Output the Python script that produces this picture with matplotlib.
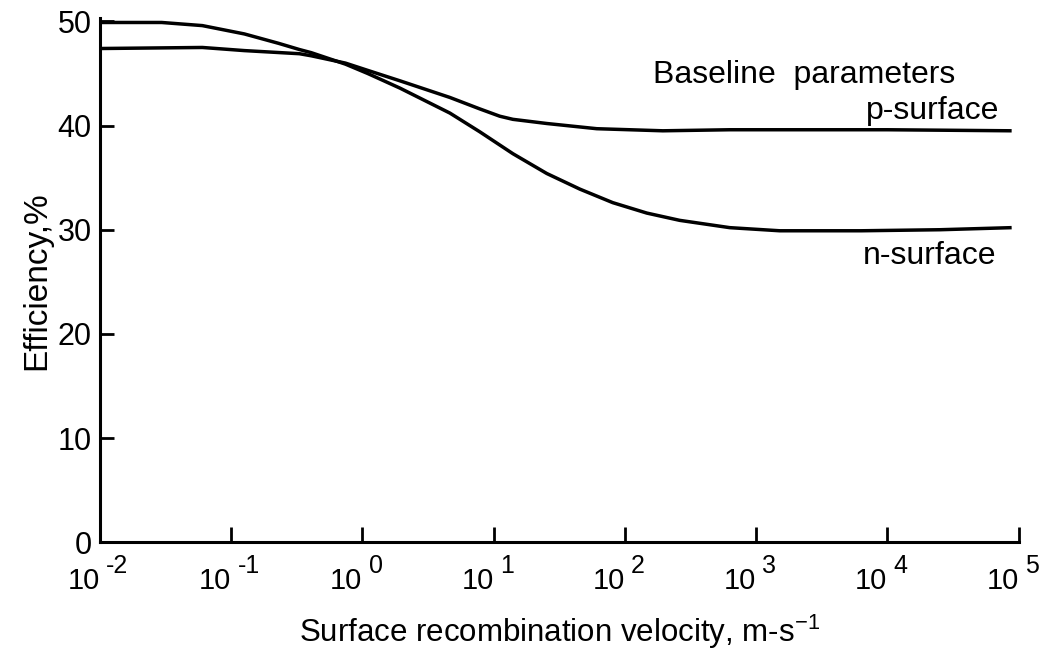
import numpy as np
import matplotlib
matplotlib.use("Agg")
import matplotlib.pyplot as plt

plt.rcParams['font.family'] = ['Liberation Sans', 'DejaVu Sans']
plt.rcParams['mathtext.fontset'] = 'custom'
plt.rcParams['mathtext.rm'] = 'Liberation Sans'
plt.rcParams['mathtext.it'] = 'Liberation Sans'
plt.rcParams['mathtext.bf'] = 'Liberation Sans'

# log10 of surface recombination velocity (m/s) and efficiency (%)
n_logv = [-2.0, -1.53, -1.22, -0.90, -0.64, -0.48, -0.39, -0.13, 0.04, 0.285,
          0.666, 0.894, 1.146, 1.404, 1.656, 1.907, 2.166, 2.417, 2.798, 3.179,
          3.8, 4.4, 4.946]
n_efficiency = [49.9, 49.9, 49.6, 48.8, 47.9, 47.3, 47.0, 45.9, 45.0, 43.6,
                41.2, 39.4, 37.3, 35.4, 33.9, 32.6, 31.6, 30.9, 30.2, 29.9,
                29.9, 30.0, 30.2]

p_logv = [-2.0, -1.22, -0.90, -0.48, -0.39, -0.13, 0.04, 0.285, 0.666, 0.894,
          1.046, 1.146, 1.404, 1.785, 2.288, 2.798, 3.179, 4.0, 4.946]
p_efficiency = [47.4, 47.5, 47.2, 46.9, 46.7, 46.0, 45.3, 44.3, 42.7, 41.6,
                40.9, 40.6, 40.2, 39.7, 39.5, 39.6, 39.6, 39.6, 39.5]

xtick_exponents = [-2, -1, 0, 1, 2, 3, 4, 5]
ytick_vals = [0, 10, 20, 30, 40, 50]

fig = plt.figure(figsize=(10.47, 6.54), dpi=100)
ax = fig.add_axes([0.0955, 0.171, 0.8775, 0.801])

ax.plot(10 ** np.array(n_logv), n_efficiency, color='black', lw=2.5,
        solid_capstyle='butt')
ax.plot(10 ** np.array(p_logv), p_efficiency, color='black', lw=2.5,
        solid_capstyle='butt')

ax.set_xscale('log')
ax.set_xlim(1e-2, 1e5)
ax.set_ylim(0, 50.3)
xtick_vals = [10.0 ** e for e in xtick_exponents]
ax.set_xticks(xtick_vals)
ax.set_xticklabels(['10'] * len(xtick_vals), ha='right')
ax.minorticks_off()
ax.set_yticks(ytick_vals)
ax.set_yticklabels([str(v) for v in ytick_vals])

for s in ['top', 'right']:
    ax.spines[s].set_visible(False)
for s in ['left', 'bottom']:
    ax.spines[s].set_linewidth(2.2)

ax.tick_params(axis='x', direction='in', length=11, width=2.0, labelsize=21, pad=18)
ax.tick_params(axis='y', direction='in', length=10, width=2.0, labelsize=22, pad=6)

# exponents of the decade tick labels
for v, e in zip(xtick_vals, xtick_exponents):
    ax.annotate(str(e), xy=(v, 0), xycoords=('data', 'axes fraction'),
                xytext=(4.5, -22.0), textcoords='offset points',
                fontsize=18, ha='left', va='baseline', annotation_clip=False)

ax.set_xlabel(r'Surface recombination velocity, m-s$^{-1}$', fontsize=22.5)
ax.xaxis.set_label_coords(0.5, -0.19)
ax.xaxis.label.set_va('baseline')
ax.set_ylabel('Efficiency,%', fontsize=24, labelpad=4)

ax.text(10**4.52, 44.1, 'Baseline  parameters', fontsize=23, ha='right', va='baseline')
ax.text(10**4.855, 40.65, 'p-surface', fontsize=23, ha='right', va='baseline')
ax.text(10**4.83, 26.75, 'n-surface', fontsize=23, ha='right', va='baseline')

fig.savefig('out.png', dpi=100)
